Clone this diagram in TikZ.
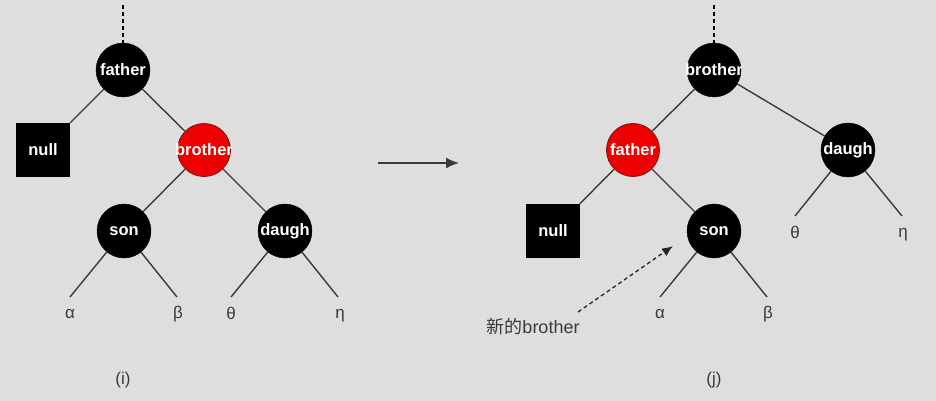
\documentclass[tikz,border=0pt]{standalone}
\usepackage{fontspec}
\setmainfont{Liberation Sans}
\newfontfamily\cjk{Noto Sans CJK SC}
\usetikzlibrary{arrows.meta}
\definecolor{bg}{HTML}{DEDEDE}
\definecolor{ln}{HTML}{3A3A3A}
\definecolor{rd}{HTML}{EE0000}
\definecolor{rdb}{HTML}{7A1010}
\newcommand{\ovl}[1]{\makebox[0pt][c]{#1}}
\begin{document}
\begin{tikzpicture}[x=1pt,y=-1pt,
  blk/.style={circle,fill=black,draw=black,minimum size=54pt,inner sep=0pt,text=white,font=\bfseries\fontsize{16.5}{20}\selectfont},
  rednode/.style={circle,fill=rd,draw=rdb,line width=0.8pt,minimum size=53pt,inner sep=0pt,text=white,font=\bfseries\fontsize{16.5}{20}\selectfont},
  nul/.style={rectangle,fill=black,minimum size=54pt,inner sep=0pt,text=white,font=\bfseries\fontsize{16.5}{20}\selectfont},
  leaf/.style={text=ln,font=\fontsize{17}{20}\selectfont,inner sep=0pt},
  edge/.style={draw=ln,line width=1.4pt},
  dashln/.style={draw=black,line width=1.2pt,dash pattern=on 4pt off 3pt}]
\fill[bg] (0,0) rectangle (936,401);
\useasboundingbox (0,0) rectangle (936,401);
% ---------- left tree (i)
\coordinate (Ltop) at (123,5);
\node[blk] (Lf) at (123,70) {\ovl{father}};
\node[nul] (Ln) at (43,150) {null};
\node[rednode] (Lb) at (204,150) {\ovl{brother}};
\node[blk] (Ls) at (124,231) {\ovl{son}};
\node[blk] (Ld) at (285,231) {\ovl{daugh}};
\coordinate (La1) at (70,297);
\coordinate (Lb1) at (177,297);
\coordinate (Lt1) at (231,297);
\coordinate (Le1) at (338,297);
\node[leaf] (Lalpha) at (70,314) {α};
\node[leaf] (Lbeta) at (178,314) {β};
\node[leaf] (Ltheta) at (231,313) {θ};
\node[leaf] (Leta) at (340,316) {η};
\node[leaf] (Li) at (123,380) {(i)};
\draw[dashln] (Ltop) -- (Lf);
\draw[edge] (Lf) -- (Ln);
\draw[edge] (Lf) -- (Lb);
\draw[edge] (Lb) -- (Ls);
\draw[edge] (Lb) -- (Ld);
\draw[edge] (Ls) -- (La1);
\draw[edge] (Ls) -- (Lb1);
\draw[edge] (Ld) -- (Lt1);
\draw[edge] (Ld) -- (Le1);
% ---------- arrow
\coordinate (A0) at (378,163);
\coordinate (A1) at (459,163);
\draw[draw=ln,line width=1.6pt,-{Latex[length=13pt,width=11pt]}] (A0) -- (A1);
% ---------- right tree (j)
\coordinate (Rtop) at (714,5);
\node[blk] (Rb) at (714,70) {\ovl{brother}};
\node[rednode] (Rf) at (633,150) {\ovl{father}};
\node[blk] (Rd) at (848,150) {\ovl{daugh}};
\node[nul] (Rn) at (553,231) {null};
\node[blk] (Rs) at (714,231) {\ovl{son}};
\coordinate (Rt1) at (795,216);
\coordinate (Re1) at (902,216);
\coordinate (Ra1) at (660,297);
\coordinate (Rb1) at (767,297);
\node[leaf] (Rtheta) at (795,232) {θ};
\node[leaf] (Reta) at (903,235) {η};
\node[leaf] (Ralpha) at (660,314) {α};
\node[leaf] (Rbeta) at (768,314) {β};
\node[leaf] (Rj) at (714,380) {(j)};
\node[leaf,font=\fontsize{18}{20}\selectfont] (Rnew) at (533,327) {{\cjk 新的}brother};
\coordinate (N0) at (578,312);
\coordinate (N1) at (673,246);
\draw[dashln] (Rtop) -- (Rb);
\draw[edge] (Rb) -- (Rf);
\draw[edge] (Rb) -- (Rd);
\draw[edge] (Rf) -- (Rn);
\draw[edge] (Rf) -- (Rs);
\draw[edge] (Rd) -- (Rt1);
\draw[edge] (Rd) -- (Re1);
\draw[edge] (Rs) -- (Ra1);
\draw[edge] (Rs) -- (Rb1);
\draw[draw=black!85,line width=1.3pt,dash pattern=on 4pt off 3pt,-{Latex[length=11pt,width=9pt]}] (N0) -- (N1);
\end{tikzpicture}
\end{document}
